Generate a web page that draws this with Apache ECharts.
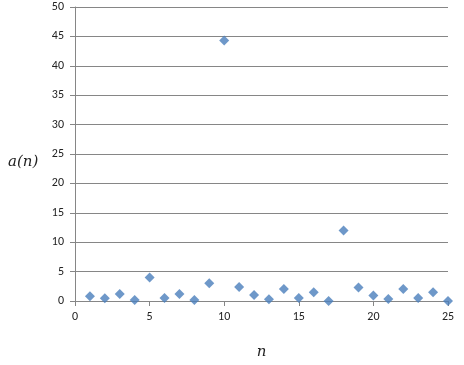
<!DOCTYPE html>
<html>
<head>
<meta charset="utf-8">
<script src="https://cdn.jsdelivr.net/npm/echarts@6/dist/echarts.min.js"></script>
<style>
  html, body { margin: 0; padding: 0; background: #fff; }
  #chart { width: 464px; height: 365px; }
</style>
</head>
<body>
<div id="chart"></div>
<script>
// values
const nValues = [1, 2, 3, 4, 5, 6, 7, 8, 9, 10, 11, 12, 13, 14, 15, 16, 17, 18, 19, 20, 21, 22, 23, 24, 25]
const aValues = [0.8, 0.45, 1.2, 0.15, 4.0, 0.5, 1.2, 0.15, 3.0, 44.3, 2.4, 1.0, 0.3, 2.05, 0.5, 1.5, 0, 12.0, 2.3, 0.95, 0.35, 2.05, 0.5, 1.5, 0]
const xTicks = [0, 5, 10, 15, 20, 25]
const yTicks = [0, 5, 10, 15, 20, 25, 30, 35, 40, 45, 50]

const points = nValues.map((n, i) => [n, aValues[i]])
const labelFont = 'Calibri, Carlito, "Open Sans", "DejaVu Sans", sans-serif'
const mathFont = '"DejaVu Serif", serif'
const gray = '#868686'

const chart = echarts.init(document.getElementById('chart'))
chart.setOption({
  animation: false,
  grid: { left: 75, right: 16, top: 7, bottom: 64, outerBoundsMode: 'none', containLabel: false },
  // y axis title sits a bit below the middle, like the original
  graphic: [
    {
      type: 'text',
      left: 8,
      top: 155,
      style: { text: 'a(n)', fontFamily: mathFont, fontStyle: 'italic', fontSize: 15, fill: '#222' }
    }
  ],
  xAxis: {
    type: 'value',
    min: xTicks[0],
    max: xTicks[xTicks.length - 1],
    interval: 5,
    name: 'n',
    nameLocation: 'middle',
    nameGap: 44,
    nameTextStyle: { fontFamily: mathFont, fontStyle: 'italic', fontSize: 15, color: '#222' },
    axisLine: { show: true, lineStyle: { color: gray } },
    axisTick: { show: true, length: 5, lineStyle: { color: gray } },
    axisLabel: { color: '#222', fontSize: 12, fontFamily: labelFont, margin: 10 },
    splitLine: { show: false }
  },
  yAxis: {
    type: 'value',
    min: yTicks[0],
    max: yTicks[yTicks.length - 1],
    interval: 5,
    axisLine: { show: true, lineStyle: { color: gray } },
    axisTick: { show: true, length: 5, lineStyle: { color: gray } },
    axisLabel: { color: '#222', fontSize: 12, fontFamily: labelFont, margin: 11 },
    splitLine: { show: true, lineStyle: { color: gray, width: 1 } }
  },
  series: [
    {
      type: 'scatter',
      symbol: 'diamond',
      symbolSize: 10,
      data: points,
      itemStyle: { color: '#4a7ebb' }
    }
  ]
})
</script>
</body>
</html>
